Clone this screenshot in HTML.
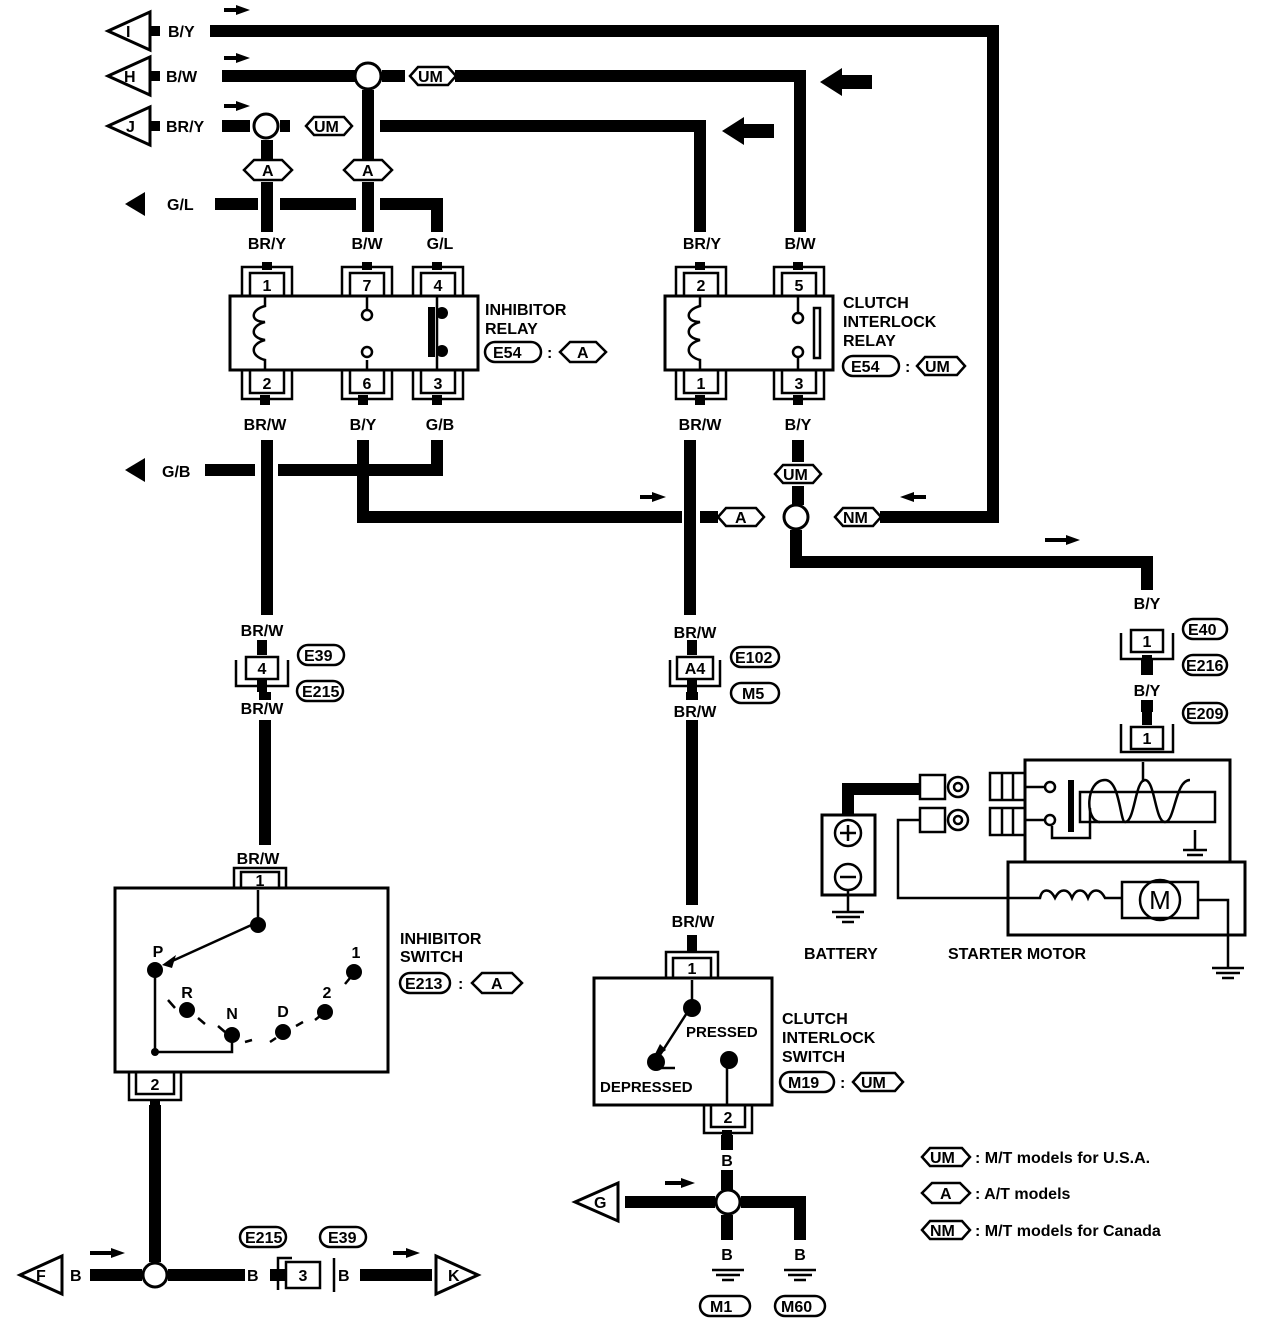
<!DOCTYPE html>
<html><head><meta charset="utf-8"><style>
html,body{margin:0;padding:0;background:#fff}
svg{display:block}
text{font-family:"Liberation Sans",sans-serif;font-weight:bold;font-size:16px;fill:#000}
.w{stroke:#000;stroke-width:12;fill:none}
.t{stroke:#000;stroke-width:3;fill:none}
.h{stroke:#000;stroke-width:3;fill:#fff}
</style></head><body>
<svg width="1264" height="1328" viewBox="0 0 1264 1328" xmlns="http://www.w3.org/2000/svg">
<g class="w">
<path d="M210 31H993V517H880"/>
<path d="M222 76H355M382 76H405M455 76H800V232"/>
<path d="M222 126H250M280 126H290M380 126H700V232"/>
<path d="M368 90V160M368 182V232"/>
<path d="M267 140V160M267 182V232"/>
<path d="M215 204H258M280 204H356M380 204H437V232"/>
<path d="M267 440V615M265 692V700M265 720V845"/>
<path d="M437 440V470H278M255 470H205"/>
<path d="M363 440V517H682M700 517H718"/>
<path d="M690 440V615M692 692V700M692 720V905"/>
<path d="M798 440V462M798 486V505"/>
<path d="M796 530V562H1147V590"/>
<path d="M1147 660V675M1147 700V712"/>
<path d="M155 1105V1262"/>
<path d="M90 1275H142M168 1275H245M270 1275H285M360 1275H432"/>
<path d="M727 1135V1150M727 1170V1190M727 1215V1240"/>
<path d="M625 1202H715M741 1202H800V1240"/>
<path d="M848 815V789H920"/>
</g>
<g class="w" style="stroke-width:10"><path d="M267 262V270M367 262V270M437 262V270M700 262V270M798 262V270M265 395V405M363 395V405M437 395V405M700 395V405M798 395V405M262 640V655M692 640V655M262 680V692M692 680V692M692 935V952M155 1100V1110M727 1130V1140M1147 655V662M1147 700V725"/></g>
<g class="h">
<polygon points="108,31 150,12 150,50"/><polygon points="108,76 150,57 150,95"/><polygon points="108,126 150,107 150,145"/>
<polygon points="20,1275 62,1256 62,1294"/><polygon points="478,1275 436,1256 436,1294"/><polygon points="575,1202 618,1183 618,1221"/>
</g>
<g class="w" style="stroke-width:10"><path d="M150 31H160M150 76H160M150 126H160"/></g>
<text x="126" y="37">I</text><text x="124" y="82">H</text><text x="126" y="132">J</text>
<text x="36" y="1281">F</text><text x="448" y="1281">K</text><text x="594" y="1208">G</text>
<text x="168" y="37">B/Y</text><text x="166" y="82">B/W</text><text x="166" y="132">BR/Y</text>
<text x="167" y="210">G/L</text><text x="162" y="477">G/B</text>
<text x="70" y="1281">B</text><text x="247" y="1281">B</text><text x="338" y="1281">B</text><text x="638" y="1208">B</text>
<g fill="#000">
<path d="M125 204L145 192V216Z"/><path d="M125 470L145 458V482Z"/>
<path d="M820 82L842 68V75H872V89H842V96Z"/><path d="M722 131L744 117V124H774V138H744V145Z"/>
<path d="M250 10L236 5V8H224V12H236V15Z"/><path d="M250 58L236 53V56H224V60H236V63Z"/><path d="M250 106L236 101V104H224V108H236V111Z"/>
<path d="M666 497L652 492V495H640V499H652V502Z"/><path d="M900 497L914 492V495H926V499H914V502Z"/>
<path d="M1080 540L1066 535V538H1045V542H1066V545Z"/>
<path d="M125 1253L111 1248V1251H90V1255H111V1258Z"/><path d="M420 1253L406 1248V1251H393V1255H406V1258Z"/>
<path d="M695 1183L681 1178V1181H665V1185H681V1188Z"/>
</g>
<g class="h"><circle cx="368" cy="76" r="13"/><circle cx="266" cy="126" r="12"/><circle cx="796" cy="517" r="12"/><circle cx="155" cy="1275" r="12"/><circle cx="728" cy="1202" r="12"/></g>
<g class="h" style="stroke-width:2.5">
<polygon points="410,76 418,67 448,67 456,76 448,85 418,85"/>
<polygon points="306,126 314,117 344,117 352,126 344,135 314,135"/>
<polygon points="244,170 254,160 282,160 292,170 282,180 254,180"/>
<polygon points="344,170 354,160 382,160 392,170 382,180 354,180"/>
<polygon points="775,474 783,465 813,465 821,474 813,483 783,483"/>
<polygon points="718,517 726,508 756,508 764,517 756,526 726,526"/>
<polygon points="835,517 843,508 873,508 881,517 873,526 843,526"/>
<polygon points="560,352 570,342 596,342 606,352 596,362 570,362"/>
<polygon points="917,366 925,357 957,357 965,366 957,375 925,375"/>
<polygon points="472,983 482,973 512,973 522,983 512,993 482,993"/>
<polygon points="853,1082 861,1073 895,1073 903,1082 895,1091 861,1091"/>
<polygon points="922,1157 930,1148 962,1148 970,1157 962,1166 930,1166"/>
<polygon points="922,1193 932,1183 960,1183 970,1193 960,1203 932,1203"/>
<polygon points="922,1230 930,1221 962,1221 970,1230 962,1239 930,1239"/>
</g>
<g style="font-size:14px">
<text x="418" y="82">UM</text><text x="314" y="132">UM</text><text x="262" y="176">A</text><text x="362" y="176">A</text>
<text x="783" y="480">UM</text><text x="735" y="523">A</text><text x="843" y="523">NM</text><text x="577" y="358">A</text>
<text x="925" y="372">UM</text><text x="491" y="989">A</text><text x="861" y="1088">UM</text>
<text x="930" y="1163">UM</text><text x="940" y="1199">A</text><text x="930" y="1236">NM</text>
</g>
<g class="h" style="stroke-width:2.5">
<rect x="485" y="342" width="56" height="20" rx="10"/><rect x="843" y="356" width="56" height="20" rx="10"/>
<rect x="298" y="645" width="46" height="20" rx="10"/><rect x="297" y="681" width="46" height="20" rx="10"/>
<rect x="731" y="647" width="48" height="20" rx="10"/><rect x="731" y="683" width="48" height="20" rx="10"/>
<rect x="1183" y="619" width="44" height="20" rx="10"/><rect x="1183" y="655" width="44" height="20" rx="10"/><rect x="1183" y="703" width="44" height="20" rx="10"/>
<rect x="400" y="973" width="50" height="20" rx="10"/><rect x="780" y="1072" width="54" height="20" rx="10"/>
<rect x="240" y="1227" width="46" height="20" rx="10"/><rect x="320" y="1227" width="46" height="20" rx="10"/>
<rect x="700" y="1296" width="50" height="20" rx="10"/><rect x="775" y="1296" width="50" height="20" rx="10"/>
</g>
<g style="font-size:14px">
<text x="493" y="358">E54</text><text x="851" y="372">E54</text><text x="304" y="661">E39</text><text x="302" y="697">E215</text>
<text x="735" y="663">E102</text><text x="742" y="699">M5</text><text x="1188" y="635">E40</text><text x="1186" y="671">E216</text><text x="1186" y="719">E209</text>
<text x="405" y="989">E213</text><text x="788" y="1088">M19</text><text x="245" y="1243">E215</text><text x="328" y="1243">E39</text>
<text x="710" y="1312">M1</text><text x="781" y="1312">M60</text>
<text x="547" y="358">:</text><text x="905" y="372">:</text><text x="458" y="989">:</text><text x="840" y="1088">:</text>
</g>
<g text-anchor="middle">
<text x="267" y="249">BR/Y</text><text x="367" y="249">B/W</text><text x="440" y="249">G/L</text>
<text x="702" y="249">BR/Y</text><text x="800" y="249">B/W</text>
<text x="265" y="430">BR/W</text><text x="363" y="430">B/Y</text><text x="440" y="430">G/B</text>
<text x="700" y="430">BR/W</text><text x="798" y="430">B/Y</text>
<text x="262" y="636">BR/W</text><text x="262" y="714">BR/W</text><text x="258" y="864">BR/W</text>
<text x="695" y="638">BR/W</text><text x="695" y="717">BR/W</text><text x="693" y="927">BR/W</text>
<text x="1147" y="609">B/Y</text><text x="1147" y="696">B/Y</text>
<text x="155" y="1133">B</text><text x="727" y="1166">B</text><text x="727" y="1260">B</text><text x="800" y="1260">B</text>
</g>
<g class="t">
<rect x="230" y="296" width="248" height="74"/><rect x="665" y="296" width="168" height="74"/>
<rect x="1025" y="760" width="205" height="102"/><rect x="1008" y="862" width="237" height="73"/>
<rect x="115" y="888" width="273" height="184"/><rect x="594" y="978" width="178" height="127"/>
<rect x="822" y="815" width="53" height="80"/>
</g>
<g class="t" style="stroke-width:2.5">
<path d="M242 296V267H292V296M250 296V273H284V296"/><path d="M342 296V267H392V296M350 296V273H384V296"/><path d="M413 296V267H463V296M421 296V273H455V296"/>
<path d="M676 296V267H726V296M684 296V273H718V296"/><path d="M774 296V267H824V296M782 296V273H816V296"/>
<path d="M242 370V399H292V370M250 370V393H284V370"/><path d="M342 370V399H392V370M350 370V393H384V370"/><path d="M413 370V399H463V370M421 370V393H455V370"/>
<path d="M676 370V399H726V370M684 370V393H718V370"/><path d="M774 370V399H824V370M782 370V393H816V370"/>
<path d="M234 888V868H286V888M241 888V872H279V888"/><path d="M666 978V952H718V978M673 978V958H711V978"/>
<path d="M129 1072V1100H181V1072M136 1072V1094H174V1072"/><path d="M704 1105V1133H752V1105M711 1105V1127H745V1105"/>
<rect x="246" y="657" width="32" height="22"/><path d="M236 660V686H288V660"/>
<rect x="677" y="657" width="36" height="22"/><path d="M670 660V686H720V660"/>
<rect x="1131" y="630" width="32" height="22"/><path d="M1121 633V659H1173V633"/>
<rect x="1131" y="727" width="32" height="22"/><path d="M1121 724V752H1173V724"/>
<rect x="286" y="1262" width="34" height="26"/><path d="M278 1290V1258H292M334 1258V1292"/>
</g>
<g text-anchor="middle" style="font-size:15px">
<text x="267" y="291">1</text><text x="367" y="291">7</text><text x="438" y="291">4</text><text x="701" y="291">2</text><text x="799" y="291">5</text>
<text x="267" y="389">2</text><text x="367" y="389">6</text><text x="438" y="389">3</text><text x="701" y="389">1</text><text x="799" y="389">3</text>
<text x="260" y="886">1</text><text x="692" y="974">1</text><text x="155" y="1090">2</text><text x="728" y="1123">2</text>
<text x="262" y="674">4</text><text x="695" y="674">A4</text><text x="1147" y="647">1</text><text x="1147" y="744">1</text><text x="303" y="1281">3</text>
</g>
<g class="t" style="stroke-width:2.5">
<path d="M265 296V306C250 310 250 322 265 322C250 326 250 338 265 340C250 344 250 356 265 360V370"/>
<path d="M367 296V310M367 360V370M700 296V306C685 310 685 322 700 322C685 326 685 338 700 340C685 344 685 356 700 360V370"/>
<path d="M798 296V312M798 358V370M437 296V370"/>
<circle cx="367" cy="315" r="5"/><circle cx="367" cy="352" r="5"/><circle cx="798" cy="318" r="5"/><circle cx="798" cy="352" r="5"/>
</g>
<rect x="428" y="307" width="7" height="50" fill="#000"/><circle cx="442" cy="313" r="6"/><circle cx="442" cy="351" r="6"/>
<rect x="814" y="308" width="6" height="50" fill="none" stroke="#000" stroke-width="2.5"/>
<text x="485" y="315">INHIBITOR</text><text x="485" y="334">RELAY</text>
<text x="843" y="308">CLUTCH</text><text x="843" y="327">INTERLOCK</text><text x="843" y="346">RELAY</text>
<text x="400" y="944">INHIBITOR</text><text x="400" y="962">SWITCH</text>
<text x="782" y="1024">CLUTCH</text><text x="782" y="1043">INTERLOCK</text><text x="782" y="1062">SWITCH</text>
<text x="804" y="959">BATTERY</text><text x="948" y="959">STARTER MOTOR</text>
<text x="975" y="1163">: M/T models for U.S.A.</text><text x="975" y="1199">: A/T models</text><text x="975" y="1236">: M/T models for Canada</text>
<g class="t" style="stroke-width:2.5"><path d="M258 890V922L170 962M155 968V1052H232V1035"/>
<path d="M168 1000L175 1008M198 1018L205 1024M218 1026L225 1032M245 1042L252 1040M270 1042L276 1038M296 1026L303 1022M315 1020L320 1016M345 984L350 978"/></g>
<g fill="#000"><circle cx="258" cy="925" r="8"/><path d="M162 965L176 955L172 968Z"/><circle cx="155" cy="970" r="8"/>
<circle cx="187" cy="1010" r="8"/><circle cx="232" cy="1035" r="8"/><circle cx="283" cy="1032" r="8"/><circle cx="325" cy="1012" r="8"/><circle cx="354" cy="972" r="8"/><circle cx="155" cy="1052" r="4"/></g>
<g text-anchor="middle"><text x="158" y="957">P</text><text x="187" y="998">R</text><text x="232" y="1019">N</text><text x="283" y="1017">D</text><text x="327" y="998">2</text><text x="356" y="958">1</text></g>
<g class="t" style="stroke-width:2.5"><path d="M692 980V1005L658 1058M727 1060V1105M660 1068H675"/></g>
<g fill="#000"><circle cx="692" cy="1008" r="9"/><circle cx="656" cy="1062" r="9"/><circle cx="729" cy="1060" r="9"/><path d="M652 1060L660 1044L666 1050Z"/></g>
<text x="686" y="1037" style="font-size:15px">PRESSED</text><text x="600" y="1092" style="font-size:15px">DEPRESSED</text>
<g class="t" style="stroke-width:2.5">
<path d="M712 1270H744M716 1275H740M722 1280H734M784 1270H816M788 1275H812M794 1280H806"/>
<path d="M848 890V912M832 912H864M836 917H860M842 922H854"/>
<path d="M1228 935V968M1212 968H1244M1216 973H1240M1222 978H1234"/>
<path d="M1195 830V850M1183 850H1207M1187 855H1203"/>
</g>
<g class="t" style="stroke-width:2.5"><circle cx="848" cy="833" r="13"/><circle cx="848" cy="877" r="13"/><path d="M840 833H856M848 825V841M840 877H856"/></g>
<g class="t" style="stroke-width:2.5">
<rect x="920" y="775" width="25" height="24"/><rect x="920" y="808" width="25" height="24"/>
<circle cx="958" cy="787" r="10"/><circle cx="958" cy="787" r="4"/><circle cx="958" cy="820" r="10"/><circle cx="958" cy="820" r="4"/>
<rect x="990" y="773" width="35" height="27"/><rect x="990" y="808" width="35" height="27"/>
<path d="M1002 773V800M1013 773V800M1002 808V835M1013 808V835"/>
<path d="M1025 787H1045M1025 820H1045M1052 826V838H1090V808"/>
<circle cx="1050" cy="787" r="5"/><circle cx="1050" cy="820" r="5"/>
<rect x="1080" y="792" width="135" height="30"/>
<path d="M1100 822C1085 822 1085 780 1105 780C1120 780 1120 822 1125 822C1135 822 1135 780 1145 780C1155 780 1155 822 1165 822C1175 822 1175 780 1190 780"/>
<path d="M1143 762V782"/>
<path d="M920 820H898V898H1040C1042 888 1050 888 1055 898C1060 888 1068 888 1072 898C1076 888 1084 888 1088 898C1092 888 1100 888 1105 898H1122"/>
<rect x="1122" y="882" width="76" height="36"/><circle cx="1160" cy="900" r="20"/>
<path d="M1198 900H1228V935"/>
</g>
<rect x="1068" y="780" width="6" height="52" fill="#000"/>
<text x="1160" y="909" text-anchor="middle" style="font-size:26px;font-weight:normal">M</text>
</svg>
</body></html>
